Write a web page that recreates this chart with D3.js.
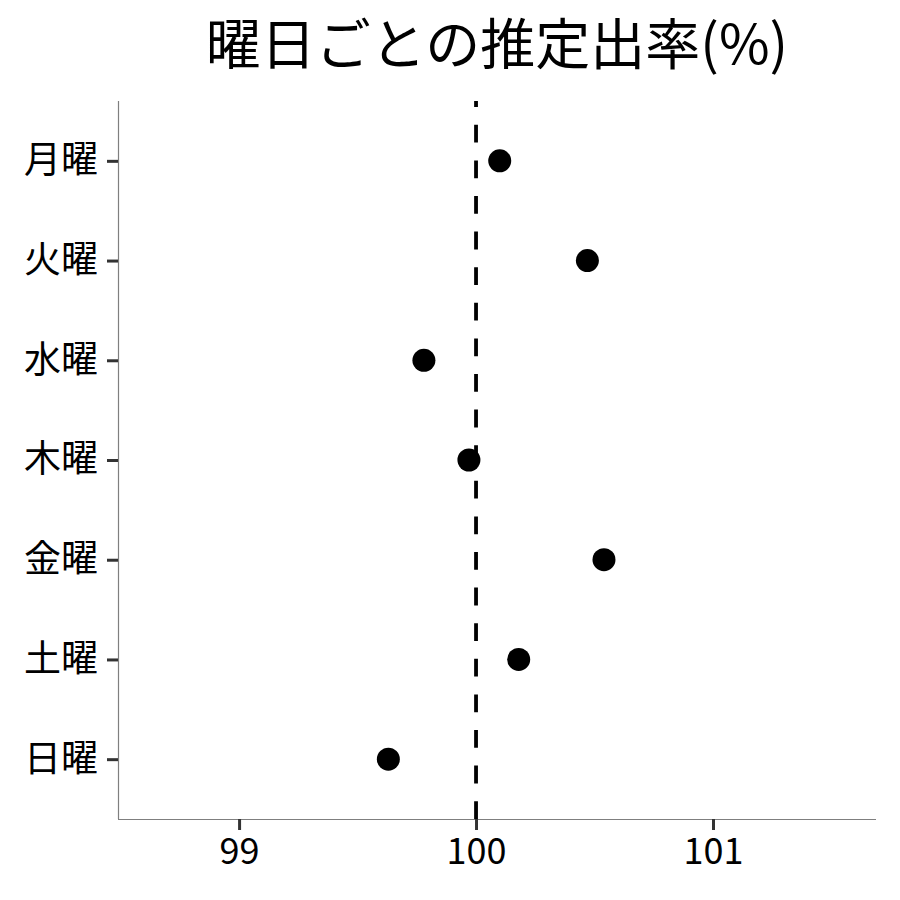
<!DOCTYPE html>
<html>
<head>
<meta charset="utf-8">
<script src="https://cdn.jsdelivr.net/npm/d3@7"></script>
<style>
  body { margin: 0; background: #fff; }
  text { font-family: "Noto Sans CJK JP", "Noto Sans", sans-serif; }
</style>
</head>
<body>
<div id="chart"></div>
<script>
// data
var days = ["月曜", "火曜", "水曜", "木曜", "金曜", "土曜", "日曜"];
var rates = [100.10, 100.47, 99.78, 99.97, 100.54, 100.18, 99.63];
var xTicks = [99, 100, 101];
var refValue = 100;
var title = "曜日ごとの推定出率(%)";

var margin = {top: 101, right: 24, bottom: 81, left: 118};
var width = 900 - margin.left - margin.right;
var height = 900 - margin.top - margin.bottom;

var svg = d3.select("#chart").append("svg")
    .attr("width", 900)
    .attr("height", 900);

var g = svg.append("g")
    .attr("transform", "translate(" + margin.left + "," + margin.top + ")");

var x = d3.scaleLinear()
    .domain([98.489, 101.688])
    .range([0, width]);

var y = d3.scalePoint()
    .domain(days)
    .range([0, height])
    .padding(0.6);

// dashed reference line
g.append("line")
    .attr("x1", x(refValue)).attr("x2", x(refValue))
    .attr("y1", height).attr("y2", 0)
    .attr("stroke", "#000")
    .attr("stroke-width", 3.8)
    .attr("stroke-dasharray", "17.8,17.8");

// points
g.selectAll(".dot")
    .data(days)
    .enter().append("circle")
    .attr("class", "dot")
    .attr("cx", function(d, i) { return x(rates[i]); })
    .attr("cy", function(d) { return y(d); })
    .attr("r", 11.5)
    .attr("fill", "#000");

// axes
var xAxis = d3.axisBottom(x).tickValues(xTicks).tickSize(11).tickPadding(8).tickFormat(d3.format("d"));
var yAxis = d3.axisLeft(y).tickSize(11).tickPadding(9);

var gx = g.append("g")
    .attr("transform", "translate(0," + height + ")")
    .call(xAxis);
var gy = g.append("g").call(yAxis);

[gx, gy].forEach(function(a) {
    a.select(".domain").attr("stroke", "#7f7f7f").attr("stroke-width", 1.2);
    a.selectAll(".tick line").attr("stroke", "#333").attr("stroke-width", 3);
    a.selectAll(".tick text").attr("fill", "#000");
});
gx.selectAll(".tick text").style("font-size", "36px");
gy.selectAll(".tick text").style("font-size", "37px");
gx.select(".domain").attr("d", "M0,0.5H" + width);
gy.select(".domain").attr("d", "M0.5,0V" + height);

svg.append("text")
    .attr("x", margin.left + width / 2)
    .attr("y", 64)
    .attr("text-anchor", "middle")
    .style("font-size", "55px")
    .attr("fill", "#000")
    .text(title);
</script>
</body>
</html>
